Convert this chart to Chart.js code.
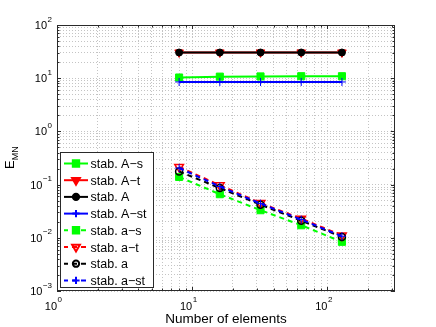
<!DOCTYPE html>
<html>
<head>
<meta charset="utf-8">
<script src="https://cdn.jsdelivr.net/npm/chart.js@4"></script>
<style>
  html, body { margin: 0; padding: 0; background: #fff; }
</style>
</head>
<body>
<canvas id="errChart" width="436" height="327"></canvas>
<script>
// number of elements (x) and error values E_MN (y) per stabilization variant
const elements = [8, 16, 32, 64, 128];
const stabAs  = [10.3, 10.7, 10.8, 10.9, 10.9];
const stabAt  = [30.5, 30.5, 30.5, 30.5, 30.5];
const stabA   = [30.4, 30.4, 30.4, 30.4, 30.4];
const stabAst = [8.5, 8.5, 8.5, 8.5, 8.5];
const stabas  = [0.139, 0.066, 0.033, 0.0172, 0.0084];
const stabat  = [0.215, 0.097, 0.045, 0.0229, 0.0111];
const staba   = [0.177, 0.086, 0.042, 0.021, 0.0104];
const stabast = [0.205, 0.092, 0.044, 0.022, 0.0107];

// decade tick labels (10^n)
const xDecades = [1, 10, 100];
const yDecades = [0.001, 0.01, 0.1, 1, 10, 100];
const xMax = 316;

const FONT = '"Liberation Sans", Arial, Helvetica, sans-serif';

function minorTicks(decades, max) {
  const out = [];
  decades.forEach(d => {
    for (let k = 1; k <= 9; k++) {
      if (d * k <= max * 1.0001) out.push(d * k);
    }
  });
  return out;
}
const xTickVals = minorTicks(xDecades, xMax);
const yTickVals = minorTicks(yDecades.slice(0, -1), 100).concat([100]);

function pts(ys) { return elements.map((x, i) => ({ x: x, y: ys[i] })); }

const series = [
  { label: 'stab. A\u2212s',  data: stabAs,  color: '#00ff00', dash: [],     style: 'rect',     r: 5,   rot: 0,   fill: true },
  { label: 'stab. A\u2212t',  data: stabAt,  color: '#ff0000', dash: [],     style: 'triangle', r: 5,   rot: 180, fill: true },
  { label: 'stab. A',         data: stabA,   color: '#000000', dash: [],     style: 'circle',   r: 3.5, rot: 0,   fill: true },
  { label: 'stab. A\u2212st', data: stabAst, color: '#0000ff', dash: [],     style: 'cross',    r: 4,   rot: 0,   fill: true },
  { label: 'stab. a\u2212s',  data: stabas,  color: '#00ff00', dash: [5, 4], style: 'rect',     r: 5,   rot: 0,   fill: true },
  { label: 'stab. a\u2212t',  data: stabat,  color: '#ff0000', dash: [5, 4], style: 'triangle', r: 5,   rot: 180, fill: false },
  { label: 'stab. a',         data: staba,   color: '#000000', dash: [5, 4], style: 'circle',   r: 3.5, rot: 0,   fill: false },
  { label: 'stab. a\u2212st', data: stabast, color: '#0000ff', dash: [5, 4], style: 'cross',    r: 4,   rot: 0,   fill: true }
];

const datasets = series.map((s, i) => ({
  label: s.label,
  data: pts(s.data),
  borderColor: s.color,
  backgroundColor: s.fill ? s.color : 'rgba(0,0,0,0)',
  borderWidth: 2,
  borderDash: s.dash,
  pointStyle: s.style,
  pointRadius: s.r,
  pointRotation: s.rot,
  pointBorderWidth: s.fill ? 1 : 1.5,
  pointBorderColor: s.color,
  pointBackgroundColor: s.fill ? s.color : 'rgba(0,0,0,0)',
  tension: 0,
  fill: false,
  order: series.length - i
}));

// frame, inward ticks, tick labels, axis titles and legend
const matlabLook = {
  id: 'matlabLook',
  afterDraw(chart) {
    const ctx = chart.ctx;
    const a = chart.chartArea;
    const xs = chart.scales.x, ys = chart.scales.y;
    ctx.save();

    // box
    ctx.strokeStyle = '#2a2a2a';
    ctx.lineWidth = 1;
    ctx.setLineDash([]);
    ctx.strokeRect(Math.round(a.left) + 0.5, Math.round(a.top) + 0.5,
                   Math.round(a.right - a.left) - 1, Math.round(a.bottom - a.top) - 1);

    // inward ticks
    ctx.beginPath();
    xTickVals.forEach(v => {
      const px = Math.round(xs.getPixelForValue(v)) + 0.5;
      const len = xDecades.includes(v) ? 4 : 2.5;
      ctx.moveTo(px, a.bottom); ctx.lineTo(px, a.bottom - len);
      ctx.moveTo(px, a.top); ctx.lineTo(px, a.top + len);
    });
    yTickVals.forEach(v => {
      const py = Math.round(ys.getPixelForValue(v)) + 0.5;
      const len = yDecades.includes(v) ? 4 : 2.5;
      ctx.moveTo(a.left, py); ctx.lineTo(a.left + len, py);
      ctx.moveTo(a.right, py); ctx.lineTo(a.right - len, py);
    });
    ctx.stroke();

    // tick labels 10^n
    ctx.fillStyle = '#000';
    ctx.textBaseline = 'alphabetic';
    yDecades.forEach(v => {
      const e = Math.round(Math.log10(v));
      const exp = e < 0 ? '\u2212' + (-e) : String(e);
      const py = ys.getPixelForValue(v);
      ctx.font = '8px ' + FONT;
      const ew = ctx.measureText(exp).width;
      const right = 52;
      ctx.textAlign = 'left';
      ctx.fillText(exp, right - ew, py - 3.5);
      ctx.font = '11px ' + FONT;
      ctx.textAlign = 'right';
      ctx.fillText('10', right - ew - 0.5, py + 4);
    });
    xDecades.forEach(v => {
      const e = Math.round(Math.log10(v));
      const px = xs.getPixelForValue(v);
      ctx.font = '11px ' + FONT;
      ctx.textAlign = 'right';
      ctx.fillText('10', px, a.bottom + 18.5);
      ctx.font = '8px ' + FONT;
      ctx.textAlign = 'left';
      ctx.fillText(String(e), px + 0.5, a.bottom + 11);
    });

    // x title
    ctx.font = '13.5px ' + FONT;
    ctx.textAlign = 'center';
    ctx.fillText('Number of elements', (a.left + a.right) / 2, 323);

    // y title E_MN
    ctx.save();
    ctx.translate(14, 169);
    ctx.rotate(-Math.PI / 2);
    ctx.textAlign = 'left';
    ctx.font = '13px ' + FONT;
    ctx.fillText('E', 0, 0);
    const w = ctx.measureText('E').width;
    ctx.font = '9px ' + FONT;
    ctx.fillText('MN', w, 3.5);
    ctx.restore();

    // legend
    const lx = 60.5, ly = 152.5, lw = 93, lh = 135;
    ctx.fillStyle = '#fff';
    ctx.fillRect(lx, ly, lw, lh);
    ctx.strokeStyle = '#2a2a2a';
    ctx.lineWidth = 1;
    ctx.strokeRect(lx, ly, lw, lh);
    series.forEach((s, i) => {
      const ds = datasets[i];
      const cy = 163.5 + i * 16.7;
      ctx.strokeStyle = s.color;
      ctx.lineWidth = 2;
      ctx.setLineDash(s.dash.length ? [5, 4] : []);
      ctx.lineDashOffset = s.dash.length ? 1 : 0;
      ctx.beginPath();
      ctx.moveTo(64, cy); ctx.lineTo(88, cy);
      ctx.stroke();
      ctx.setLineDash([]);
      ctx.lineDashOffset = 0;
      ctx.strokeStyle = s.color;
      ctx.fillStyle = ds.pointBackgroundColor;
      Chart.helpers.drawPoint(ctx, {
        pointStyle: s.style, radius: s.r * 0.9, rotation: s.rot,
        borderWidth: ds.pointBorderWidth
      }, 76, cy);
      ctx.fillStyle = '#000';
      ctx.font = '12.5px ' + FONT;
      ctx.textAlign = 'left';
      ctx.fillText(s.label, 90.5, cy + 4.5);
    });
    ctx.restore();
  }
};

const gridOpts = { color: '#c4c4c4', lineWidth: 1, drawTicks: false };
const borderOpts = { display: false, dash: [1, 2] };

new Chart(document.getElementById('errChart').getContext('2d'), {
  type: 'line',
  data: { datasets: datasets },
  options: {
    responsive: false,
    animation: false,
    devicePixelRatio: 1,
    layout: { padding: { left: 0, right: 41, top: 25, bottom: 0 } },
    plugins: { legend: { display: false }, tooltip: { enabled: false } },
    scales: {
      x: {
        type: 'logarithmic',
        min: 1,
        max: xMax,
        grid: gridOpts,
        border: borderOpts,
        ticks: { display: false, autoSkip: false },
        afterBuildTicks: s => { s.ticks = xTickVals.map(v => ({ value: v })); },
        afterFit: s => { s.height = 36; }
      },
      y: {
        type: 'logarithmic',
        min: 0.001,
        max: 100,
        grid: gridOpts,
        border: borderOpts,
        ticks: { display: false, autoSkip: false },
        afterBuildTicks: s => { s.ticks = yTickVals.map(v => ({ value: v })); },
        afterFit: s => { s.width = 57; }
      }
    }
  },
  plugins: [matlabLook]
});
</script>
</body>
</html>
